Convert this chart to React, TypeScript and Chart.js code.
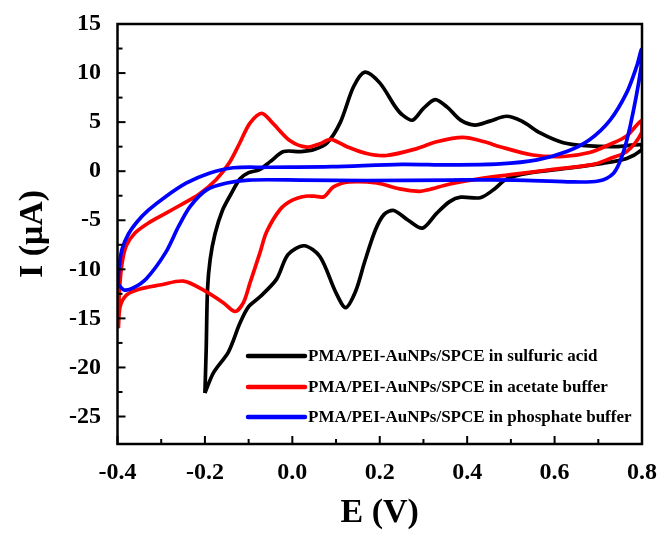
import React, { useEffect, useRef } from 'react';
import { Chart, registerables } from 'chart.js';

Chart.register(...registerables);

const SERIES_LABELS = [
  'PMA/PEI-AuNPs/SPCE in sulfuric acid',
  'PMA/PEI-AuNPs/SPCE in acetate buffer',
  'PMA/PEI-AuNPs/SPCE in phosphate buffer',
];
const SERIES_COLORS = ['#000000', '#ff0000', '#0000ff'];

// Sulfuric acid (black) — closed CV loop
const SULFURIC_E = [
  -0.2, -0.197, -0.194, -0.188, -0.177, -0.16, -0.14, -0.12, -0.1, -0.075, -0.05, -0.02, 0.02, 0.05, 0.08, 0.11,
  0.14, 0.166, 0.2, 0.235, 0.25, 0.275, 0.3, 0.327, 0.355, 0.385, 0.418, 0.452, 0.49, 0.525, 0.567, 0.62, 0.67,
  0.74, 0.8,
  0.8, 0.765, 0.71, 0.63, 0.54, 0.49, 0.46, 0.43, 0.385, 0.36, 0.33, 0.298, 0.265, 0.232, 0.21, 0.19, 0.165,
  0.145, 0.122, 0.1, 0.063, 0.027, -0.01, -0.036, -0.074, -0.1, -0.12, -0.146, -0.18, -0.2,
];
const SULFURIC_I = [
  -22.6, -18.0, -12.0, -9.0, -6.4, -4.0, -2.3, -0.8, -0.15, 0.15, 1.0, 2.0, 2.0, 2.2, 2.9, 5.0,
  8.6, 10.1, 9.0, 6.6, 5.8, 5.2, 6.4, 7.3, 6.5, 5.2, 4.7, 5.1, 5.6, 5.1, 3.9, 2.9, 2.6,
  2.5, 2.7,
  2.2, 1.3, 0.8, 0.3, -0.2, -0.8, -1.9, -2.7, -2.65, -3.1, -4.3, -5.8, -5.0, -4.0, -4.4, -6.0, -9.3,
  -12.2, -13.9, -12.4, -8.7, -7.6, -8.5, -11.0, -12.8, -13.8, -15.5, -18.4, -20.5, -22.6,
];

// Acetate buffer (red)
const ACETATE_E = [
  -0.398, -0.396, -0.39, -0.38, -0.36, -0.33, -0.29, -0.25, -0.215, -0.175, -0.145, -0.12, -0.097, -0.07,
  -0.045, -0.005, 0.033, 0.063, 0.088, 0.125, 0.17, 0.215, 0.285, 0.33, 0.39, 0.44, 0.475, 0.55, 0.62, 0.68,
  0.73, 0.765, 0.8,
  0.8, 0.765, 0.727, 0.69, 0.59, 0.514, 0.437, 0.361, 0.31, 0.29, 0.246, 0.193, 0.13, 0.094, 0.072, 0.05,
  0.03, 0.0, -0.028, -0.059, -0.074, -0.097, -0.112, -0.131, -0.158, -0.204, -0.249, -0.303, -0.349, -0.379,
  -0.394, -0.398,
];
const ACETATE_I = [
  -16.0, -12.5, -9.5, -7.6, -6.3, -5.3, -4.3, -3.3, -2.4, -0.9, 0.8, 2.9, 4.9, 5.9,
  4.9, 3.1, 2.45, 2.8, 3.25, 2.5, 1.8, 1.6, 2.3, 3.0, 3.45, 3.0, 2.5, 1.65, 1.5, 1.9,
  2.8, 3.6, 5.2,
  4.0, 2.0, 1.3, 0.7, 0.15, -0.28, -0.7, -1.3, -1.9, -2.05, -1.8, -1.2, -1.1, -1.6, -2.6, -2.55,
  -2.55, -2.95, -3.9, -6.2, -8.3, -11.4, -13.4, -14.3, -13.4, -12.1, -11.2, -11.6, -12.0, -12.6,
  -13.8, -16.0,
];

// Phosphate buffer (blue)
const PHOSPHATE_E = [
  -0.399, -0.397, -0.39, -0.375, -0.356, -0.33, -0.29, -0.242, -0.19, -0.135, -0.06, 0.09, 0.25, 0.36, 0.475,
  0.56, 0.628, 0.68, 0.727, 0.765, 0.788, 0.799,
  0.797, 0.773, 0.754, 0.735, 0.7, 0.63, 0.51, 0.36, 0.17, 0.02, -0.1, -0.15, -0.196, -0.234, -0.26, -0.29,
  -0.333, -0.364, -0.385, -0.399,
];
const PHOSPHATE_I = [
  -11.5, -10.0, -8.0, -6.4, -5.2, -4.0, -2.6, -1.2, -0.2, 0.35, 0.4, 0.47, 0.7, 0.64, 0.74,
  1.15, 2.0, 3.2, 5.2, 8.0, 10.7, 12.4,
  10.3, 4.6, 1.5, -0.2, -1.0, -1.08, -0.9, -0.9, -0.95, -0.9, -0.9, -1.2, -1.9, -3.6, -5.6, -8.3,
  -10.9, -11.9, -12.1, -11.5,
];

const X_MIN = -0.4;
const X_MAX = 0.8;
const Y_MIN = -27.8;
const Y_MAX = 15;
const X_TICKS = [-0.4, -0.2, 0.0, 0.2, 0.4, 0.6, 0.8];
const X_MINOR = [-0.3, -0.1, 0.1, 0.3, 0.5, 0.7];
const Y_TICKS = [-25, -20, -15, -10, -5, 0, 5, 10, 15];
const Y_MINOR = [-22.5, -17.5, -12.5, -7.5, -2.5, 2.5, 7.5, 12.5];

const FONT_FAMILY = '"Liberation Serif", "Times New Roman", Times, serif';

const toPoints = (xs: number[], ys: number[]) => xs.map((x, i) => ({ x, y: ys[i] }));

const framePlugin = {
  id: 'frameTicksLegend',
  afterDatasetsDraw(chart: any) {
    const { ctx, chartArea } = chart;
    const { left, right, top, bottom } = chartArea;
    const xs = chart.scales.x;
    const ys = chart.scales.y;
    ctx.save();
    ctx.strokeStyle = '#000';
    ctx.lineCap = 'butt';
    ctx.lineWidth = 2;
    const line = (x1: number, y1: number, x2: number, y2: number) => {
      ctx.beginPath();
      ctx.moveTo(x1, y1);
      ctx.lineTo(x2, y2);
      ctx.stroke();
    };
    X_TICKS.forEach((v) => {
      const p = xs.getPixelForValue(v);
      line(p, bottom, p, bottom - 8);
    });
    X_MINOR.forEach((v) => {
      const p = xs.getPixelForValue(v);
      line(p, bottom, p, bottom - 5);
    });
    Y_TICKS.forEach((v) => {
      const p = ys.getPixelForValue(v);
      line(left, p, left + 8, p);
    });
    Y_MINOR.forEach((v) => {
      const p = ys.getPixelForValue(v);
      line(left, p, left + 5, p);
    });
    ctx.lineWidth = 2.5;
    ctx.strokeRect(left, top, right - left, bottom - top);

    // legend inside the plot
    const rowsY = [bottom - 88, bottom - 57, bottom - 27];
    const lineX1 = left + 130.5;
    const lineX2 = left + 187.5;
    ctx.font = `bold 17px ${FONT_FAMILY}`;
    ctx.textBaseline = 'middle';
    ctx.textAlign = 'left';
    chart.data.datasets.forEach((ds: any, i: number) => {
      const y = rowsY[i];
      ctx.strokeStyle = ds.borderColor;
      ctx.lineWidth = 4.5;
      ctx.lineCap = 'round';
      line(lineX1, y, lineX2, y);
      ctx.fillStyle = '#000';
      ctx.fillText(ds.label, lineX2 + 3, y + 1);
    });
    ctx.restore();
  },
};

export default function App() {
  const canvasRef = useRef<HTMLCanvasElement | null>(null);

  useEffect(() => {
    if (!canvasRef.current) return;
    const seriesData = [
      toPoints(SULFURIC_E, SULFURIC_I),
      toPoints(ACETATE_E, ACETATE_I),
      toPoints(PHOSPHATE_E, PHOSPHATE_I),
    ];
    const chart = new Chart(canvasRef.current, {
      type: 'scatter',
      data: {
        datasets: seriesData.map((d, i) => ({
          label: SERIES_LABELS[i],
          data: d,
          showLine: true,
          borderColor: SERIES_COLORS[i],
          backgroundColor: SERIES_COLORS[i],
          borderWidth: 3.7,
          pointRadius: 0,
          pointHoverRadius: 0,
          tension: 0.3,
          fill: false,
          order: 2 - i,
        })),
      },
      options: {
        responsive: false,
        animation: false,
        devicePixelRatio: 1,
        layout: { padding: { top: 24, right: 22, bottom: 0, left: 0 } },
        plugins: {
          legend: { display: false },
          tooltip: { enabled: false },
        },
        scales: {
          x: {
            type: 'linear',
            min: X_MIN,
            max: X_MAX,
            grid: { display: false },
            border: { display: false },
            afterBuildTicks: (scale: any) => {
              scale.ticks = X_TICKS.map((value) => ({ value }));
            },
            afterFit: (scale: any) => {
              scale.height = 95;
              scale.paddingLeft = 0;
              scale.paddingRight = 0;
            },
            ticks: {
              autoSkip: false,
              maxRotation: 0,
              minRotation: 0,
              padding: 6.6,
              color: '#000',
              font: { family: FONT_FAMILY, size: 24, weight: 'bold' },
              callback: (v: any) => Number(v).toFixed(1),
            },
            title: {
              display: true,
              text: 'E (V)',
              color: '#000',
              font: { family: FONT_FAMILY, size: 34, weight: 'bold' },
              padding: { top: 0, bottom: 5 },
            },
          },
          y: {
            type: 'linear',
            min: Y_MIN,
            max: Y_MAX,
            grid: { display: false },
            border: { display: false },
            afterBuildTicks: (scale: any) => {
              scale.ticks = Y_TICKS.map((value) => ({ value }));
            },
            afterFit: (scale: any) => {
              scale.width = 117.5;
              scale.paddingTop = 0;
              scale.paddingBottom = 0;
            },
            ticks: {
              autoSkip: false,
              padding: 8.5,
              color: '#000',
              font: { family: FONT_FAMILY, size: 24, weight: 'bold' },
              callback: (v: any) => String(v),
            },
            title: {
              display: true,
              text: 'I (μA)',
              color: '#000',
              font: { family: FONT_FAMILY, size: 34, weight: 'bold' },
              padding: { top: 12.6, bottom: 0 },
            },
          },
        },
      },
      plugins: [framePlugin],
    });
    return () => chart.destroy();
  }, []);

  return (
    <div style={{ position: 'absolute', left: 0, top: 0, width: 664, height: 539, background: '#fff' }}>
      <canvas ref={canvasRef} width={664} height={539} />
    </div>
  );
}
